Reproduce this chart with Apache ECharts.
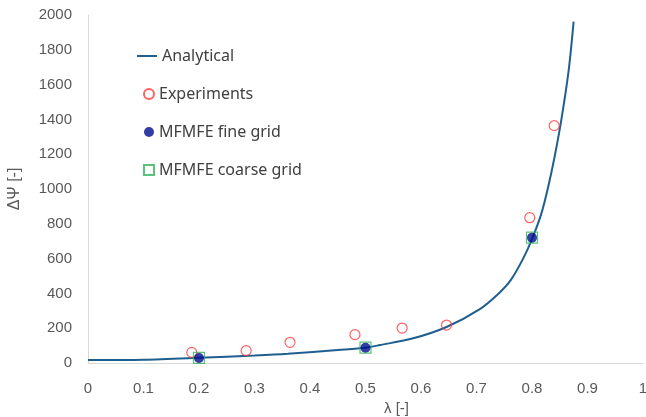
<!DOCTYPE html>
<html>
<head>
<meta charset="utf-8">
<script src="https://cdn.jsdelivr.net/npm/echarts@6/dist/echarts.min.js"></script>
<style>
  html, body { margin: 0; padding: 0; background: #fff; }
  #chart { width: 646px; height: 417px; }
</style>
</head>
<body>
<div id="chart"></div>
<script>
// analytical curve
const analyticalX = [0, 0.1, 0.2, 0.3, 0.36, 0.45, 0.5, 0.526, 0.586, 0.646, 0.706, 0.74, 0.762, 0.784, 0.8, 0.817, 0.829, 0.841, 0.853, 0.866, 0.875];
const analyticalY = [17, 19, 30, 43, 53, 75, 88, 103, 142, 207, 310, 400, 478, 600, 712, 860, 1010, 1190, 1400, 1680, 1962];

const experimentsX = [0.187, 0.285, 0.364, 0.481, 0.566, 0.646, 0.796, 0.840];
const experimentsY = [61, 71, 119, 163, 201, 218, 835, 1364];

const fineX = [0.2, 0.5, 0.8];
const fineY = [29, 88, 720];

const coarseX = [0.2, 0.5, 0.8];
const coarseY = [29, 88, 720];

const zip = (xs, ys) => xs.map((x, i) => [x, ys[i]]);

const axisColor = '#595959';
const lineColor = '#1f5f8f';
const legendText = { fontFamily: 'Noto Sans', fontSize: 16, color: '#404040' };

const chart = echarts.init(document.getElementById('chart'));
chart.setOption({
  animation: false,
  backgroundColor: '#ffffff',
  grid: { left: 88, right: 3, top: 15, bottom: 54, outerBoundsMode: 'none' },
  legend: [
    {
      orient: 'vertical',
      left: 132,
      top: 43,
      icon: 'rect',
      itemWidth: 20,
      itemHeight: 2,
      textStyle: legendText,
      data: ['Analytical'],
    },
    {
      orient: 'vertical',
      left: 138,
      top: 81,
      itemGap: 22,
      itemWidth: 10,
      itemHeight: 10,
      textStyle: legendText,
      data: ['Experiments', 'MFMFE fine grid', 'MFMFE coarse grid'],
    },
  ],
  xAxis: {
    type: 'value',
    min: 0,
    max: 1,
    interval: 0.1,
    name: 'λ [-]',
    nameLocation: 'middle',
    nameGap: 37,
    nameTextStyle: { fontFamily: 'Liberation Sans', fontSize: 15, color: axisColor, padding: [0, 0, 0, 62] },
    axisLine: { show: true, lineStyle: { color: '#d9d9d9', width: 1 } },
    axisTick: { show: false },
    splitLine: { show: false },
    axisLabel: {
      fontFamily: 'Liberation Sans',
      fontSize: 15,
      color: axisColor,
      margin: 18,
      formatter: (v) => String(Math.round(v * 10) / 10),
    },
  },
  yAxis: {
    type: 'value',
    min: 0,
    max: 2000,
    interval: 200,
    name: 'ΔΨ [-]',
    nameLocation: 'middle',
    nameGap: 65,
    nameTextStyle: { fontFamily: 'Liberation Sans', fontSize: 16, color: axisColor },
    axisLine: { show: true, lineStyle: { color: '#d9d9d9', width: 1 } },
    axisTick: { show: false },
    splitLine: { show: false },
    axisLabel: {
      fontFamily: 'Liberation Sans',
      fontSize: 15,
      color: axisColor,
      margin: 16,
      formatter: (v) => String(v),
    },
  },
  series: [
    {
      name: 'Analytical',
      type: 'line',
      data: zip(analyticalX, analyticalY),
      smooth: 0.3,
      symbol: 'none',
      lineStyle: { color: lineColor, width: 2 },
      itemStyle: { color: lineColor },
      z: 2,
    },
    {
      name: 'Experiments',
      type: 'scatter',
      data: zip(experimentsX, experimentsY),
      symbol: 'circle',
      symbolSize: 10,
      itemStyle: { color: 'rgba(255,255,255,0)', borderColor: '#ff3b3b', borderWidth: 1.2 },
      z: 3,
    },
    {
      name: 'MFMFE coarse grid',
      type: 'scatter',
      data: zip(coarseX, coarseY),
      symbol: 'rect',
      symbolSize: 11,
      itemStyle: { color: 'rgba(255,255,255,0)', borderColor: '#2fb35a', borderWidth: 1.2 },
      z: 4,
    },
    {
      name: 'MFMFE fine grid',
      type: 'scatter',
      data: zip(fineX, fineY),
      symbol: 'circle',
      symbolSize: 10,
      itemStyle: { color: '#000c8c' },
      z: 5,
    },
  ],
});
</script>
</body>
</html>
